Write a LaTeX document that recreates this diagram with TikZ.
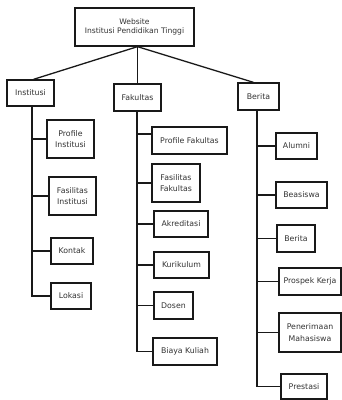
\documentclass[tikz,border=0pt]{standalone}
\usepackage{fontspec}
\setmainfont{DejaVu Sans}
\begin{document}
\begin{tikzpicture}[x=1pt,y=-1pt,
  box/.style={draw=black!90, line width=1.3pt, fill=white, inner sep=0pt, align=center,
    font=\fontsize{7.8}{11.5}\selectfont, text=black!80},
  link/.style={draw=black!90, line width=1.3pt}]
\useasboundingbox (0,0) rectangle (342,400);
\newcommand\bx[6]{\node[box, minimum width={#3-#2}, minimum height={#5-#4}] (#1) at ({(#2+#3)/2},{(#4+#5)/2}) {#6};}
% root
\node[box, font=\fontsize{7.6}{9.5}\selectfont, minimum width=119, minimum height=38] (root) at (134.5,27) {Website\\Institusi Pendidikan Tinggi};
% level 1
\bx{inst}{7}{54}{80}{106}{Institusi}
\bx{fak}{114}{161}{84}{111}{Fakultas}
\bx{ber}{238}{279}{83}{110}{Berita}
% Institusi children
\bx{pi}{47}{94}{120}{158}{Profile\\Institusi}
\bx{fi}{49}{96}{177}{215}{Fasilitas\\Institusi}
\bx{ko}{51}{93}{238}{264}{Kontak}
\bx{lo}{51}{91}{283}{309}{Lokasi}
% Fakultas children
\bx{pf}{152}{227}{127}{154}{Profile Fakultas}
\bx{ff}{152}{200}{164}{202}{Fasilitas\\Fakultas}
\bx{ak}{154}{208}{211}{237}{Akreditasi}
\bx{ku}{154}{209}{252}{278}{Kurikulum}
\bx{do}{154}{193}{292}{319}{Dosen}
\bx{bk}{153}{217}{338}{365}{Biaya Kuliah}
% Berita children
\bx{al}{276}{317}{133}{159}{Alumni}
\bx{be}{276}{327}{182}{208}{Beasiswa}
\bx{bs}{277}{315}{225}{252}{Berita}
\bx{pk}{279}{341}{268}{295}{Prospek Kerja}
\bx{pm}{279}{341}{313}{352}{Penerimaan\\Mahasiswa}
\bx{pr}{281}{327}{374}{399}{Prestasi}
% root links
\coordinate (rb) at (root.south -| fak.north);
\draw[link] (rb) -- ([xshift=3pt]inst.north);
\draw[link] (rb) -- (fak.north);
\draw[link] (rb) -- ([xshift=-5pt]ber.north);
% trunks
\coordinate (ti) at (32,106);
\coordinate (tf) at (137,111);
\coordinate (tb) at (257,110);
\draw[link] (ti) |- (pi.west);
\draw[link] (ti) |- (fi.west);
\draw[link] (ti) |- (ko.west);
\draw[link] (ti) |- (lo.west);
\draw[link] (tf) |- ([yshift=6.5pt]pf.west);
\draw[link] (tf) |- (ff.west);
\draw[link] (tf) |- (ak.west);
\draw[link] (tf) |- (ku.west);
\draw[link] (tf) |- (do.west);
\draw[link] (tf) |- (bk.west);
\draw[link] (tb) |- (al.west);
\draw[link] (tb) |- (be.west);
\draw[link] (tb) |- (bs.west);
\draw[link] (tb) |- (pk.west);
\draw[link] (tb) |- (pm.west);
\draw[link] (tb) |- (pr.west);
\end{tikzpicture}
\end{document}
